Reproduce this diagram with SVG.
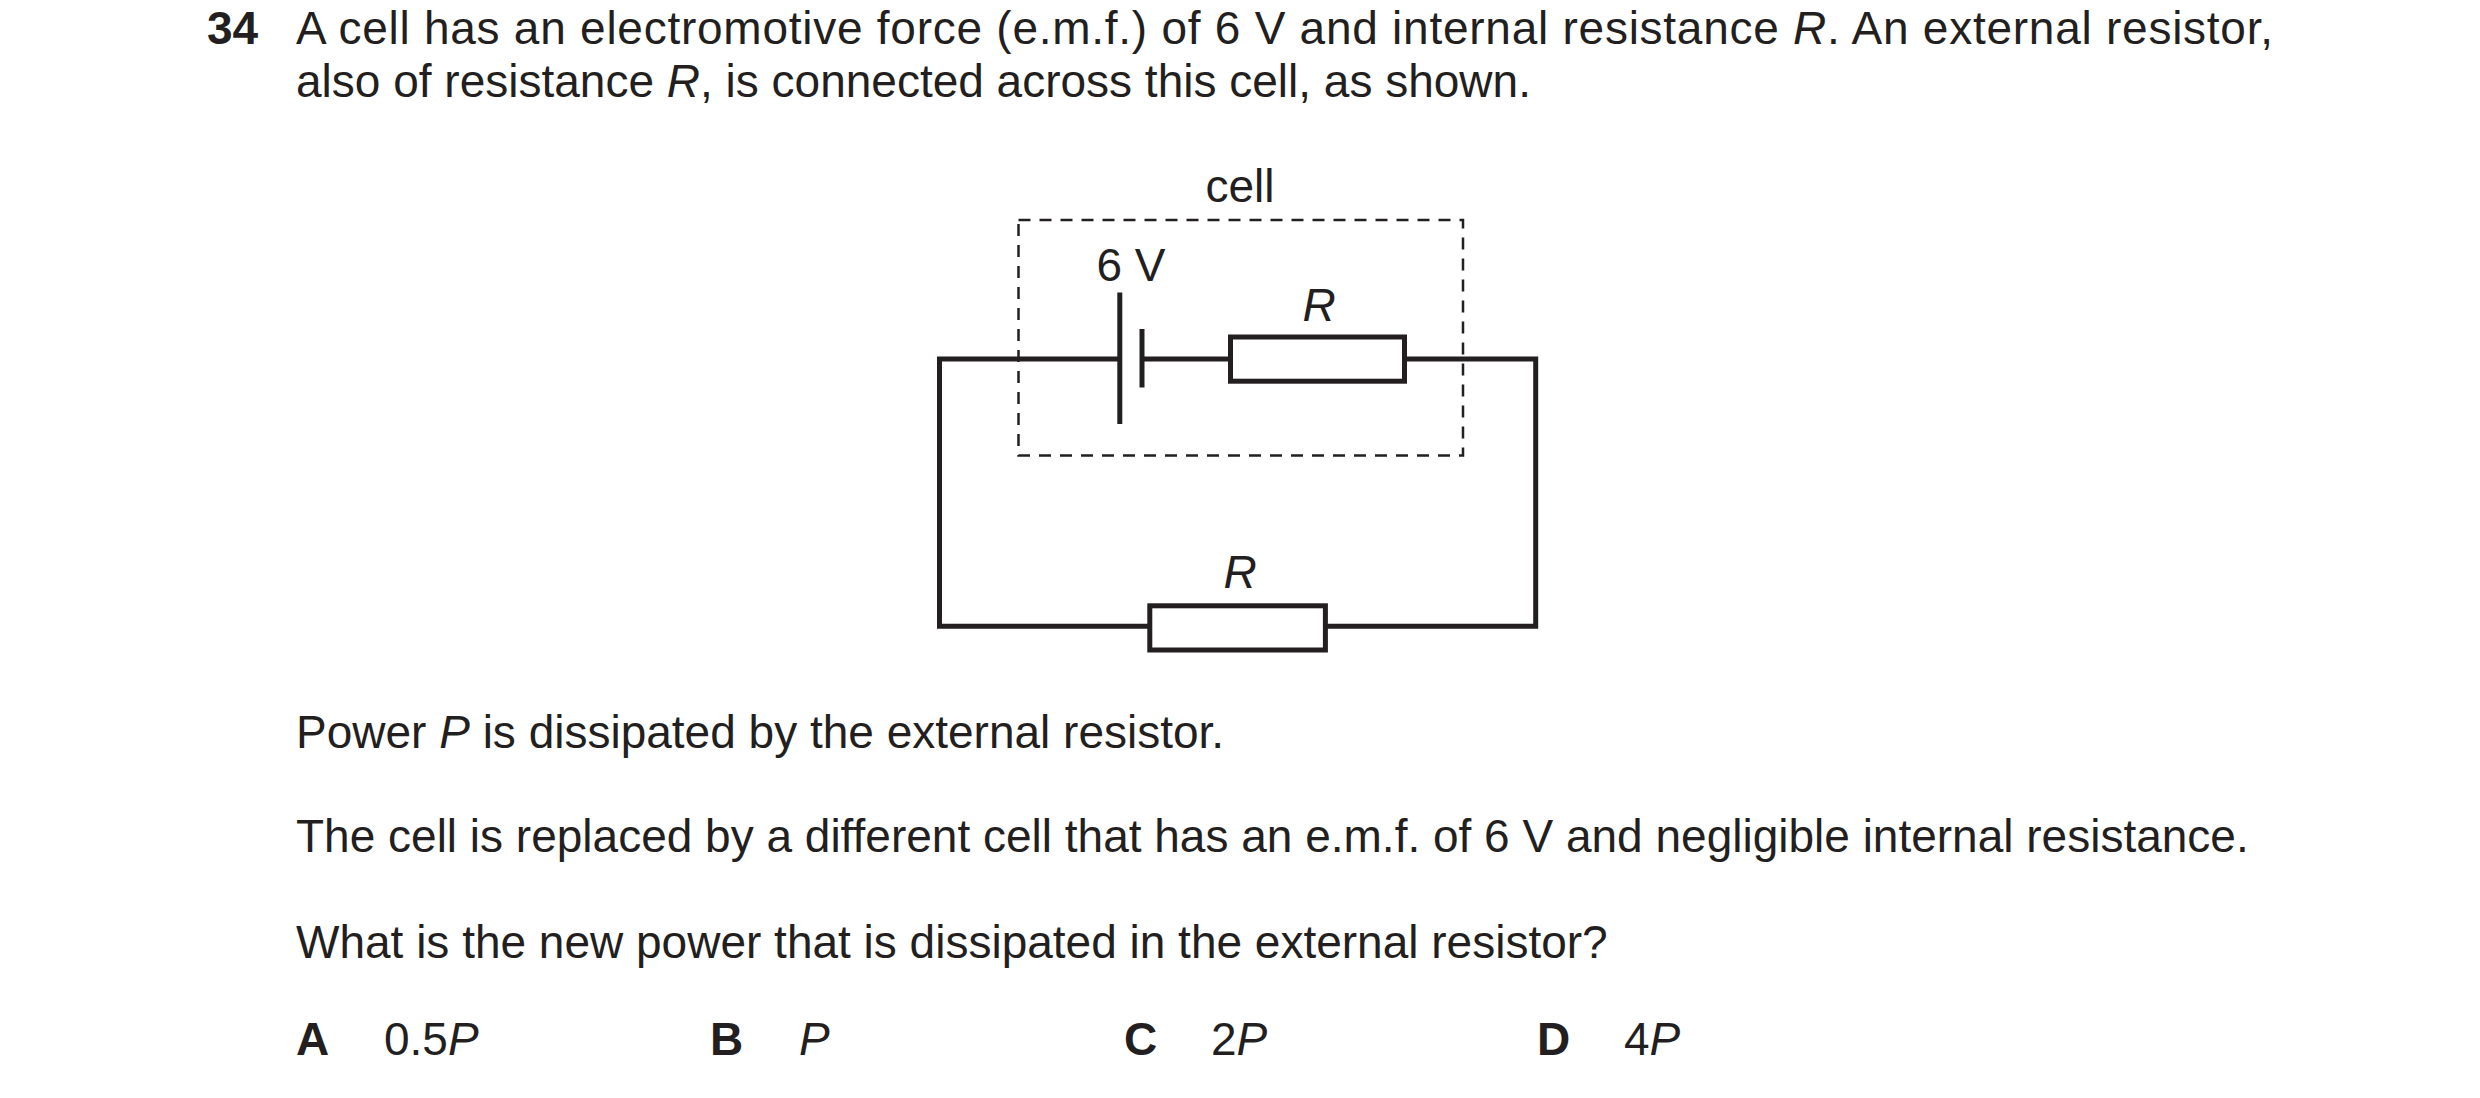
<svg xmlns="http://www.w3.org/2000/svg" width="2480" height="1098" viewBox="0 0 2480 1098">
<style>
text{font-family:"Liberation Sans",Arial,sans-serif;font-size:46px;fill:#231f20}
.b{font-weight:bold}
.w{fill:none;stroke:#231f20;stroke-width:5}
.d{fill:none;stroke:#231f20;stroke-width:2.5;stroke-dasharray:12 9}
.m{text-anchor:middle}
</style>
<rect width="2480" height="1098" fill="#fff"/>
<text class="b" x="207" y="44">34</text>
<text x="296" y="44" textLength="1977" lengthAdjust="spacing">A cell has an electromotive force (e.m.f.) of 6 V and internal resistance <tspan font-style="italic">R</tspan>. An external resistor,</text>
<text x="296" y="97">also of resistance <tspan font-style="italic">R</tspan>, is connected across this cell, as shown.</text>
<g id="cellbox"><rect class="d" x="1018.5" y="220" width="444.5" height="235.5"/><text class="m" x="1240" y="202">cell</text></g>
<g id="connectors">
<polyline class="w" points="1119.8,359 939.5,359 939.5,626.3 1149.8,626.3"/>
<polyline class="w" points="1325.4,626.3 1535.7,626.3 1535.7,359 1404.5,359"/>
<line class="w" x1="1142" y1="359" x2="1230.5" y2="359"/>
</g>
<g id="battery"><line class="w" x1="1119.8" y1="292.6" x2="1119.8" y2="424"/><line class="w" x1="1142" y1="329" x2="1142" y2="387.5"/><text class="m" x="1131" y="281">6 V</text></g>
<g id="internal"><rect class="w" x="1230.5" y="337" width="174" height="44.2"/><text class="m" x="1319" y="321" font-style="italic">R</text></g>
<g id="external"><rect class="w" x="1149.8" y="605.8" width="175.6" height="44.2"/><text class="m" x="1240" y="588" font-style="italic">R</text></g>
<text x="296" y="748">Power <tspan font-style="italic">P</tspan> is dissipated by the external resistor.</text>
<text x="296" y="852">The cell is replaced by a different cell that has an e.m.f. of 6 V and negligible internal resistance.</text>
<text x="296" y="958">What is the new power that is dissipated in the external resistor?</text>
<text class="b" x="296" y="1055">A</text><text x="384" y="1055">0.5<tspan font-style="italic">P</tspan></text>
<text class="b" x="710" y="1055">B</text><text x="799" y="1055" font-style="italic">P</text>
<text class="b" x="1124" y="1055">C</text><text x="1211" y="1055">2<tspan font-style="italic">P</tspan></text>
<text class="b" x="1537" y="1055">D</text><text x="1624" y="1055">4<tspan font-style="italic">P</tspan></text>
</svg>
